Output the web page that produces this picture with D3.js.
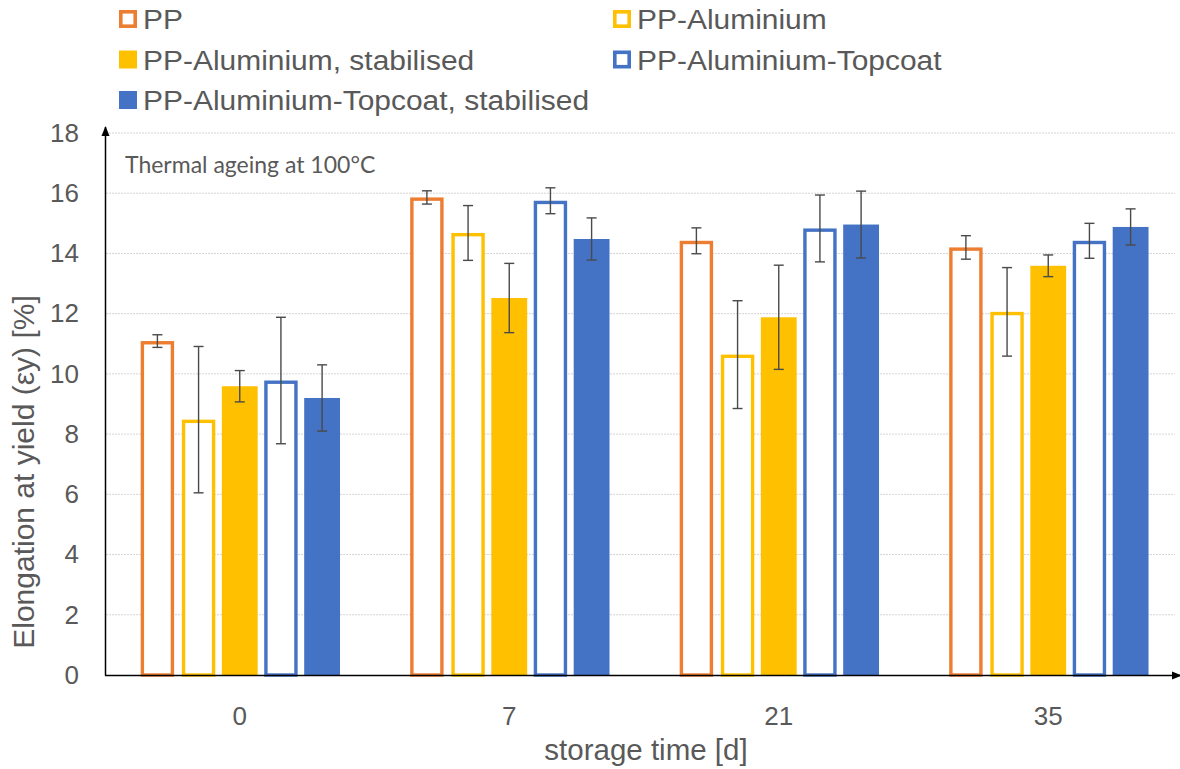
<!DOCTYPE html>
<html><head><meta charset="utf-8">
<script src="https://cdn.jsdelivr.net/npm/d3@7"></script>
<style>body{margin:0;background:#fff}svg{display:block}</style>
</head><body><svg id="c" width="1180" height="769"></svg>
<script>
const categories = ["0", "7", "21", "35"];
const seriesNames = ["PP", "PP-Aluminium", "PP-Aluminium, stabilised", "PP-Aluminium-Topcoat", "PP-Aluminium-Topcoat, stabilised"];
const seriesColors = ["#ED7D31", "#FFC000", "#FFC000", "#4472C4", "#4472C4"];
const seriesFilled = [false, false, true, false, true];
const valPP        = [11.09, 15.86, 14.42, 14.20];
const valAl        = [8.48, 14.68, 10.64, 12.06];
const valAlStab    = [9.59, 12.52, 11.88, 13.59];
const valTop       = [9.78, 15.75, 14.83, 14.42];
const valTopStab   = [9.20, 14.48, 14.96, 14.88];
const errPP        = [0.21, 0.22, 0.43, 0.39];
const errAl        = [2.43, 0.91, 1.79, 1.47];
const errAlStab    = [0.52, 1.15, 1.73, 0.36];
const errTop       = [2.10, 0.43, 1.11, 0.58];
const errTopStab   = [1.10, 0.70, 1.11, 0.60];
const yTicks = [0, 2, 4, 6, 8, 10, 12, 14, 16, 18];

const values = [valPP, valAl, valAlStab, valTop, valTopStab];
const errors = [errPP, errAl, errAlStab, errTop, errTopStab];

const svg = d3.select("#c");
const FONT = "'Liberation Sans', Arial, sans-serif";
const TXT = "#595959";

const x0 = d3.scaleBand().domain(categories).range([105, 1183]).paddingInner(0.236).paddingOuter(0.118);
const x1 = d3.scaleBand().domain(d3.range(5)).range([0, x0.bandwidth()]).paddingInner(0.13).paddingOuter(0.065);
const y = d3.scaleLinear().domain([0, 18]).range([675, 133]);

// gridlines
svg.append("g").selectAll("line").data(yTicks.filter(d => d > 0)).join("line")
  .attr("x1", 106).attr("x2", 1175)
  .attr("y1", d => y(d)).attr("y2", d => y(d))
  .attr("stroke", "#d4d4d4").attr("stroke-width", 1).attr("stroke-dasharray", "2,1");

// bars
const data = [];
categories.forEach((c, i) => values.forEach((v, s) => data.push({c, s, v: v[i], e: errors[s][i]})));
const bw = x1.bandwidth();
const g = svg.append("g");
data.forEach(d => {
  const bx = x0(d.c) + x1(d.s);
  if (seriesFilled[d.s]) {
    g.append("rect").attr("x", bx).attr("y", y(d.v)).attr("width", bw).attr("height", y(0) - y(d.v))
      .attr("fill", seriesColors[d.s]);
  } else {
    const sw = 3.4, ins = 1.2 + sw / 2;
    g.append("rect").attr("x", bx + ins).attr("y", y(d.v) + sw / 2).attr("width", bw - 2 * ins)
      .attr("height", y(0) - y(d.v) - sw / 2)
      .attr("fill", "#fff").attr("stroke", seriesColors[d.s]).attr("stroke-width", sw);
  }
});
// error bars
const eg = svg.append("g").attr("stroke", "#4a4a4a").attr("stroke-width", 1.4);
data.forEach(d => {
  const cx = x0(d.c) + x1(d.s) + bw / 2;
  eg.append("line").attr("x1", cx).attr("x2", cx).attr("y1", y(d.v + d.e)).attr("y2", y(d.v - d.e));
  [d.v + d.e, d.v - d.e].forEach(t => eg.append("line").attr("x1", cx - 5).attr("x2", cx + 5).attr("y1", y(t)).attr("y2", y(t)));
});

// axes with arrows
const defs = svg.append("defs");
defs.append("marker").attr("id", "arr").attr("viewBox", "0 0 10 10").attr("refX", 9).attr("refY", 5)
  .attr("markerWidth", 10).attr("markerHeight", 10).attr("markerUnits", "userSpaceOnUse").attr("orient", "auto")
  .append("path").attr("d", "M0,1 L10,5 L0,9 Z").attr("fill", "#000");
svg.append("line").attr("x1", 105.5).attr("x2", 105.5).attr("y1", 675.5).attr("y2", 127)
  .attr("stroke", "#000").attr("stroke-width", 1.5).attr("marker-end", "url(#arr)");
svg.append("line").attr("x1", 105).attr("x2", 1181).attr("y1", 675.5).attr("y2", 675.5)
  .attr("stroke", "#000").attr("stroke-width", 1.5).attr("marker-end", "url(#arr)");

// y tick labels via axis
const yAxis = svg.append("g").attr("transform", "translate(105,0)")
  .call(d3.axisLeft(y).tickValues(yTicks).tickSize(0).tickPadding(26));
yAxis.select(".domain").remove();
yAxis.selectAll("text").attr("font-family", FONT).attr("font-size", 26).attr("fill", TXT);

const xAxis = svg.append("g").attr("transform", "translate(0,675)")
  .call(d3.axisBottom(x0).tickSize(0).tickPadding(32));
xAxis.select(".domain").remove();
xAxis.selectAll("text").attr("font-family", FONT).attr("font-size", 26).attr("fill", TXT);

// axis titles
svg.append("text").attr("x", 646).attr("y", 760).attr("text-anchor", "middle")
  .attr("font-family", FONT).attr("font-size", 29.5).attr("fill", TXT).text("storage time [d]");
svg.append("text").attr("transform", "translate(34,472) rotate(-90)").attr("text-anchor", "middle")
  .attr("font-family", FONT).attr("font-size", 30).attr("fill", TXT).text("Elongation at yield (εy) [%]");

// annotation
svg.append("text").attr("x", 125).attr("y", 173).attr("font-family", "Lato, 'Open Sans', sans-serif")
  .attr("font-size", 23).attr("fill", TXT).text("Thermal ageing at 100°C");

// legend
const legPos = [[119, 19], [613, 19], [119, 59.5], [613, 59.5], [119, 100]];
seriesNames.forEach((n, i) => {
  const [lx, ly] = legPos[i];
  const lg = svg.append("g");
  if (seriesFilled[i]) {
    lg.append("rect").attr("x", lx).attr("y", ly - 9).attr("width", 18).attr("height", 18).attr("fill", seriesColors[i]);
  } else {
    lg.append("rect").attr("x", lx + 1.8).attr("y", ly - 7.2).attr("width", 14.4).attr("height", 14.4)
      .attr("fill", "#fff").attr("stroke", seriesColors[i]).attr("stroke-width", 3.6);
  }
  lg.append("text").attr("transform", `translate(${lx + 24},${ly + 10}) scale(1.07,1)`)
    .attr("font-family", FONT).attr("font-size", 28).attr("fill", TXT).text(n);
});
</script></body></html>
